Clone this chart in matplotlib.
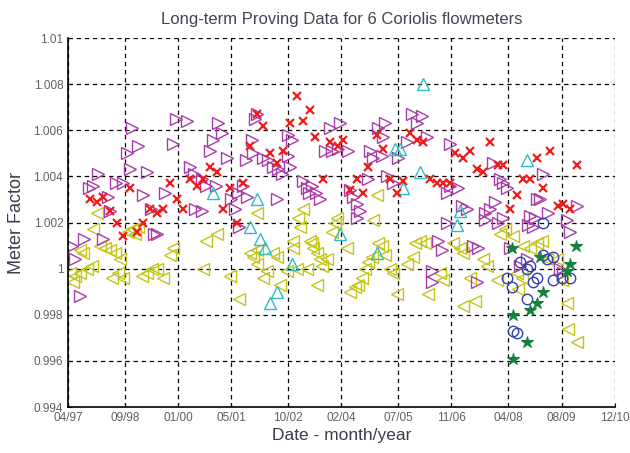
import matplotlib
matplotlib.use("Agg")
import matplotlib.pyplot as plt

plt.rcParams['font.family'] = ['Liberation Sans', 'DejaVu Sans']

# Fechas (año decimal) y factor de medidor
mag_x = [1997.35, 1997.42, 1997.55, 1997.65, 1998.12, 1999.40, 1999.47, 2001.52, 1997.77, 1997.87,
         1998.00, 1998.45, 1998.62, 1998.72, 1998.85, 1999.00, 1998.80, 1999.22, 1999.12, 1999.32,
         1998.25, 1998.30, 1999.95, 2000.22, 1999.87, 1999.67, 2000.30, 2000.40, 2000.60, 2000.70,
         2000.42, 2000.60, 2001.00, 2001.10, 2000.87, 2000.80, 2001.22, 2000.95, 2001.32, 2001.42,
         2001.62, 2001.50, 2001.72, 2001.85, 2001.87, 2001.70, 2001.97, 2001.92, 2002.12, 2002.25,
         2002.37, 2002.50, 2002.60, 2002.47, 2002.75, 2002.85, 2002.75, 2002.80, 2003.12, 2003.22,
         2003.27, 2003.35, 2003.55, 2003.45, 2003.80, 2004.05, 2003.67, 2003.85, 2004.00, 2004.25,
         2004.30, 2004.37, 2004.47, 2004.55, 2004.47, 2004.80, 2004.87, 2005.10, 2005.00, 2005.17,
         2005.12, 2004.75, 2005.22, 2005.37, 2005.50, 2005.72, 2005.85, 2005.97, 2006.10, 2006.22,
         2006.80, 2006.72, 2006.72, 2007.87, 2006.80, 2007.00, 2007.10, 2007.22, 2008.05, 2008.12,
         2008.22, 2007.67, 2007.80, 2007.92, 2008.00, 2009.12, 2008.97, 2009.05, 2008.80, 2008.92,
         2009.25, 2009.72, 2009.97, 2007.67, 2008.12, 2008.75, 2009.80, 2006.50, 2006.60, 2007.37,
         2007.50, 2007.47, 2006.35, 2006.35, 2008.55, 2008.72, 2008.30, 2009.55, 2009.62, 2008.87]
mag_y = [1.0010, 1.0004, 0.9988, 1.0013, 1.0013, 1.0015, 1.0015, 1.0018, 1.0035, 1.0036,
         1.0041, 1.0037, 1.0037, 1.0050, 1.0061, 1.0053, 1.0043, 1.0042, 1.0032, 1.0026,
         1.0031, 1.0025, 1.0065, 1.0064, 1.0054, 1.0033, 1.0044, 1.0041, 1.0039, 1.0036,
         1.0026, 1.0025, 1.0063, 1.0059, 1.0056, 1.0051, 1.0048, 1.0036, 1.0030, 1.0026,
         1.0036, 1.0033, 1.0031, 1.0056, 1.0050, 1.0047, 1.0067, 1.0065, 1.0048, 1.0047,
         1.0044, 1.0043, 1.0041, 1.0030, 1.0058, 1.0056, 1.0049, 1.0044, 1.0038, 1.0035,
         1.0033, 1.0036, 1.0030, 1.0033, 1.0061, 1.0063, 1.0051, 1.0051, 1.0052, 1.0051,
         1.0034, 1.0031, 1.0028, 1.0025, 1.0022, 1.0051, 1.0048, 1.0049, 1.0061, 1.0063,
         1.0057, 1.0039, 1.0040, 1.0037, 1.0048, 1.0055, 1.0067, 1.0063, 1.0066, 1.0057,
         1.0054, 1.0033, 1.0020, 1.0046, 1.0036, 1.0035, 1.0027, 1.0026, 1.0039, 1.0037,
         1.0035, 1.0024, 1.0026, 1.0029, 1.0020, 1.0041, 1.0030, 1.0030, 1.0023, 1.0022,
         1.0024, 1.0021, 1.0027, 1.0021, 1.0022, 1.0019, 1.0016, 1.0012, 1.0008, 1.0010,
         1.0009, 0.9994, 0.9999, 0.9994, 1.0001, 1.0004, 1.0009, 1.0000, 0.9998, 1.0018]

red_x = [1997.80, 1997.97, 1998.12, 1998.30, 1998.80, 1998.47, 1998.62, 1998.97, 1999.12, 1999.30,
         1999.47, 1999.62, 1999.80, 1999.97, 2000.12, 2000.30, 2000.47, 2000.62, 2000.80, 2000.97,
         2001.12, 2001.30, 2001.47, 2001.62, 2001.80, 2001.97, 2002.12, 2002.30, 2002.47, 2002.62,
         2002.80, 2002.97, 2003.12, 2003.30, 2003.42, 2003.80, 2004.00, 2004.12, 2003.62, 2004.30,
         2004.47, 2004.62, 2004.75, 2004.97, 2005.12, 2005.30, 2005.47, 2005.62, 2005.80, 2005.97,
         2006.12, 2006.30, 2006.47, 2006.62, 2006.80, 2006.92, 2007.12, 2007.30, 2007.80, 2007.47,
         2007.62, 2008.00, 2008.12, 2008.62, 2008.80, 2008.97, 2009.30, 2009.12, 2008.47, 2008.30,
         2009.50, 2009.62, 2009.80, 2009.97]
red_y = [1.0030, 1.0029, 1.0031, 1.0025, 1.0035, 1.0020, 1.0014, 1.0016, 1.0020, 1.0026,
         1.0024, 1.0026, 1.0037, 1.0030, 1.0026, 1.0039, 1.0036, 1.0039, 1.0044, 1.0042,
         1.0026, 1.0035, 1.0020, 1.0037, 1.0053, 1.0067, 1.0062, 1.0050, 1.0046, 1.0051,
         1.0063, 1.0075, 1.0064, 1.0069, 1.0057, 1.0055, 1.0053, 1.0056, 1.0039, 1.0034,
         1.0039, 1.0033, 1.0044, 1.0058, 1.0052, 1.0039, 1.0033, 1.0038, 1.0059, 1.0056,
         1.0055, 1.0039, 1.0037, 1.0037, 1.0037, 1.0050, 1.0048, 1.0051, 1.0055, 1.0043,
         1.0042, 1.0045, 1.0045, 1.0039, 1.0039, 1.0048, 1.0051, 1.0035, 1.0032, 1.0026,
         1.0027, 1.0028, 1.0026, 1.0045]

yel_x = [1997.87, 1998.05, 1998.17, 1998.30, 1998.42, 1998.55, 1998.75, 1998.85, 1999.00, 1998.92,
         1997.30, 1997.42, 1997.55, 1997.72, 1997.37, 1997.85, 1997.55, 1997.62, 1998.35, 1998.50,
         1998.62, 1999.10, 1999.22, 1999.35, 1999.47, 1999.62, 1999.80, 1999.87, 2000.70, 2000.97,
         2000.62, 2001.30, 2001.52, 2001.80, 2001.87, 2001.97, 2001.97, 2002.22, 2002.37, 2002.47,
         2002.55, 2002.72, 2002.87, 2002.87, 2002.97, 2003.05, 2003.22, 2003.35, 2003.47, 2003.00,
         2003.30, 2003.37, 2003.47, 2003.55, 2003.60, 2003.72, 2003.85, 2003.92, 2003.97, 2004.22,
         2004.87, 2004.30, 2004.42, 2004.50, 2004.60, 2004.67, 2004.75, 2004.85, 2005.00, 2005.10,
         2005.17, 2005.30, 2005.37, 2005.47, 2005.72, 2005.87, 2005.92, 2006.05, 2006.17, 2006.25,
         2006.62, 2002.12, 2006.55, 2006.87, 2007.05, 2007.12, 2007.62, 2007.72, 2007.30, 2007.12,
         2007.42, 2007.97, 2008.17, 2008.37, 2008.62, 2008.80, 2008.97, 2009.10, 2009.22, 2009.47,
         2008.47, 2008.60, 2009.60, 2009.72, 2009.75, 2009.97, 2008.50, 2008.05, 1997.97, 2003.12,
         2001.97, 2004.97]
yel_y = [1.0017, 1.0010, 1.0009, 1.0008, 1.0007, 1.0004, 1.0016, 1.0017, 1.0018, 1.0015,
         0.9998, 0.9997, 0.9998, 1.0000, 0.9994, 1.0001, 1.0008, 1.0007, 0.9996, 0.9998,
         0.9996, 0.9997, 0.9998, 1.0000, 1.0000, 0.9996, 1.0006, 1.0009, 1.0012, 1.0015,
         1.0000, 0.9997, 0.9987, 1.0007, 1.0005, 1.0008, 1.0002, 0.9999, 1.0007, 1.0005,
         0.9993, 0.9999, 1.0012, 1.0009, 1.0000, 1.0018, 1.0000, 1.0011, 0.9993, 1.0022,
         1.0012, 1.0009, 1.0007, 1.0004, 1.0001, 1.0004, 1.0016, 1.0020, 1.0022, 1.0009,
         1.0021, 0.9990, 0.9992, 0.9993, 0.9996, 1.0000, 1.0003, 1.0005, 1.0011, 1.0010,
         1.0006, 1.0000, 0.9998, 0.9989, 1.0002, 1.0005, 1.0011, 1.0012, 1.0011, 0.9989,
         0.9995, 0.9996, 0.9998, 1.0011, 1.0009, 1.0007, 1.0004, 1.0001, 0.9996, 0.9984,
         0.9986, 0.9995, 1.0017, 1.0014, 1.0010, 1.0009, 1.0011, 1.0012, 1.0004, 1.0004,
         0.9998, 0.9996, 0.9995, 0.9985, 0.9974, 0.9968, 0.9991, 1.0015, 1.0024, 1.0026,
         1.0024, 1.0032]

cyan_x = [2000.87, 2001.97, 2001.80, 2002.05, 2002.17, 2002.30, 2002.47, 2002.85, 2006.12,
          2005.42, 2005.55, 2006.05, 2005.62, 2004.05, 2004.97, 2006.97, 2007.05, 2008.72]
cyan_y = [1.0033, 1.0030, 1.0018, 1.0013, 1.0009, 0.9985, 0.9990, 1.0002, 1.0080,
          1.0052, 1.0052, 1.0042, 1.0035, 1.0015, 1.0007, 1.0019, 1.0025, 1.0047]

blue_x = [2008.22, 2008.35, 2008.72, 2008.80, 2008.97, 2008.72, 2008.87, 2009.12, 2009.22,
          2009.37, 2009.12, 2009.37, 2009.60, 2009.80, 2008.37, 2008.47, 2008.55]
blue_y = [0.9996, 0.9992, 1.0000, 1.0001, 0.9996, 0.9987, 0.9994, 1.0006, 1.0004,
          1.0005, 1.0020, 0.9995, 0.9996, 0.9996, 0.9973, 0.9972, 1.0003]

green_x = [2008.35, 2009.05, 2009.95, 2009.80, 2009.72, 2009.12, 2008.97, 2008.80, 2008.37,
           2008.72, 2008.37]
green_y = [1.0009, 1.0005, 1.0010, 1.0002, 0.9999, 0.9990, 0.9985, 0.9982, 0.9980,
           0.9968, 0.9961]

date_labels = ['04/97', '09/98', '01/00', '05/01', '10/02', '02/04',
               '07/05', '11/06', '04/08', '08/09', '12/10']
y_ticks = [0.994, 0.996, 0.998, 1.0, 1.002, 1.004, 1.006, 1.008, 1.01]
y_labels = ['0.994', '0.996', '0.998', '1', '1.002', '1.004', '1.006', '1.008', '1.01']

date_pos = [2000 + int(s[3:]) - (100 if int(s[3:]) > 50 else 0) + (int(s[:2]) - 1) / 12.0
            for s in date_labels]

fig = plt.figure(figsize=(6.3, 4.53), dpi=100)
ax = fig.add_axes([0.108, 0.1015, 0.868, 0.8145])

ax.plot(yel_x, yel_y, '<', ms=8.5, mfc='none', mec='#c4c41a', mew=1.0, ls='none')
ax.plot(mag_x, mag_y, '>', ms=8.5, mfc='none', mec='#a83ca8', mew=1.0, ls='none')
ax.plot(cyan_x, cyan_y, '^', ms=8.5, mfc='none', mec='#2fbcc4', mew=1.0, ls='none')
ax.plot(red_x, red_y, 'x', ms=5.5, color='#f01c1c', mew=1.6, ls='none')
ax.plot(blue_x, blue_y, 'o', ms=7.5, mfc='none', mec='#3340b0', mew=1.0, ls='none')
ax.plot(green_x, green_y, '*', ms=9, color='#14803c', mew=0.8, ls='none')

ax.set_xlim(date_pos[0], date_pos[-1])
ax.set_ylim(0.994, 1.01)
ax.set_xticks(date_pos)
ax.set_xticklabels(date_labels)
ax.set_yticks(y_ticks)
ax.set_yticklabels(y_labels)
ax.tick_params(direction='in', length=3, labelsize=8.5, labelcolor='#606060', color='black')

ax.grid(True, color='black', linestyle=(0, (3.5, 3)), linewidth=0.9)
for s in ['top', 'right']:
    ax.spines[s].set_visible(False)
for s in ['left', 'bottom']:
    ax.spines[s].set_linewidth(1.2)

ax.set_title('Long-term Proving Data for 6 Coriolis flowmeters', fontsize=12,
             color='#444455', pad=10)
ax.set_xlabel('Date - month/year', fontsize=12.5, color='#3c3c4c', labelpad=3)
ax.set_ylabel('Meter Factor', fontsize=13, color='#3c3c4c', labelpad=6)

fig.savefig('out.png', dpi=100)
